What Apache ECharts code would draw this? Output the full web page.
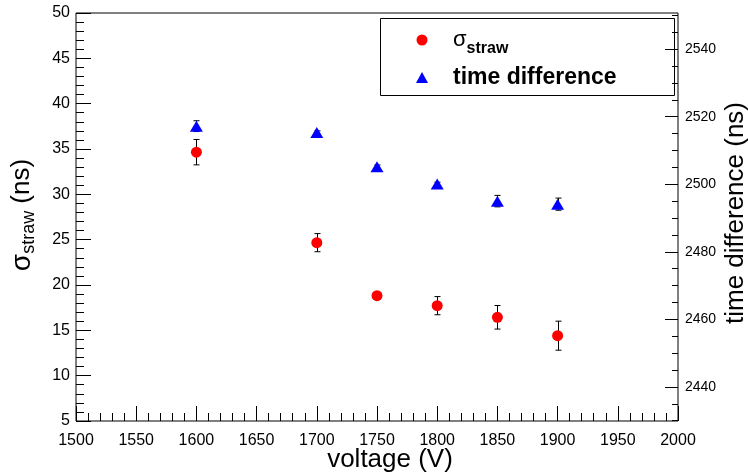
<!DOCTYPE html>
<html><head><meta charset="utf-8">
<script src="https://cdn.jsdelivr.net/npm/echarts@6/dist/echarts.min.js"></script>
<style>html,body{margin:0;padding:0;background:#fff}#c{width:748px;height:473px}</style>
</head><body><div id="c"></div>
<script>
const voltages = [1600, 1700, 1750, 1800, 1850, 1900];
const sigmaValues = [34.65, 24.67, 18.82, 17.72, 16.44, 14.41];
const sigmaErrors = [1.4, 1.0, 0.3, 1.0, 1.3, 1.6];
const timeValues = [2517.2, 2515.3, 2505.2, 2500.1, 2495.0, 2494.1];
const timeErrors = [1.6, 0.5, 0.5, 0.5, 1.7, 1.8];
const rightTicks = [2440, 2460, 2480, 2500, 2520, 2540];
const rightMinorTicks = [2430, 2435, 2440, 2445, 2450, 2455, 2460, 2465, 2470, 2475, 2480, 2485, 2490, 2495, 2500, 2505, 2510, 2515, 2520, 2525, 2530, 2535, 2540, 2545, 2550];
const legendNames = ['sigma', 'time'];

const FONT = 'Liberation Sans, Arial, sans-serif';
const RMIN = 2429.9, RMAX = 2550.7;
const plain = v => String(v);

function errSeries(xs, ys, es, yAxisIndex) {
  return {
    type: 'custom', coordinateSystem: 'cartesian2d', xAxisIndex: 0, yAxisIndex: yAxisIndex,
    z: 1, silent: true, encode: { x: 0, y: 1 },
    data: xs.map((x, i) => [x, ys[i], es[i]]),
    renderItem(params, api) {
      const x = api.value(0), y = api.value(1), e = api.value(2);
      const t = api.coord([x, y + e]), b = api.coord([x, y - e]);
      const cx = Math.round(t[0]) + 0.5, c = 3;
      const st = { stroke: '#000', lineWidth: 1 };
      return { type: 'group', children: [
        { type: 'line', shape: { x1: cx, y1: t[1], x2: cx, y2: b[1] }, style: st },
        { type: 'line', shape: { x1: cx - c, y1: t[1], x2: cx + c, y2: t[1] }, style: st },
        { type: 'line', shape: { x1: cx - c, y1: b[1], x2: cx + c, y2: b[1] }, style: st }
      ]};
    }
  };
}

const chart = echarts.init(document.getElementById('c'), null, { renderer: 'canvas' });
const black = { color: '#000', width: 1 };
chart.setOption({
  animation: false,
  backgroundColor: '#fff',
  grid: { left: 76, right: 70, top: 13, bottom: 52, show: true, borderColor: '#000', borderWidth: 1, backgroundColor: 'transparent' },
  xAxis: {
    type: 'value', min: 1500, max: 2000, interval: 50,
    axisLine: { show: false },
    axisTick: { inside: true, length: 15, lineStyle: black },
    minorTick: { show: true, splitNumber: 5, length: 8, lineStyle: black },
    axisLabel: { color: '#000', fontSize: 16, fontFamily: FONT, margin: 12, formatter: plain },
    splitLine: { show: false }
  },
  yAxis: [
    {
      type: 'value', min: 5, max: 50, interval: 5, position: 'left',
      axisLine: { show: false },
      axisTick: { inside: true, length: 15, lineStyle: black },
      minorTick: { show: true, splitNumber: 5, length: 8, lineStyle: black },
      axisLabel: { color: '#000', fontSize: 16, fontFamily: FONT, margin: 6, formatter: plain },
      splitLine: { show: false }
    },
    {
      type: 'value', min: RMIN, max: RMAX, position: 'right',
      axisLine: { show: false },
      axisTick: { inside: true, length: 13, lineStyle: black, customValues: rightTicks },
      axisLabel: { color: '#000', fontSize: 14, fontFamily: FONT, margin: 7, customValues: rightTicks, formatter: plain },
      splitLine: { show: false }
    },
    {
      type: 'value', min: RMIN, max: RMAX, position: 'right', offset: 0,
      axisLine: { show: false },
      axisTick: { inside: true, length: 6, lineStyle: black, customValues: rightMinorTicks },
      axisLabel: { show: false },
      splitLine: { show: false }
    }
  ],
  legend: {
    data: legendNames, orient: 'vertical', left: 411, top: 24,
    itemWidth: 12, itemHeight: 11, itemGap: 9,
    selectedMode: false,
    formatter: n => n === 'sigma' ? '{s|σ}{sub|straw}' : '{b|time difference}',
    textStyle: {
      color: '#000', fontFamily: FONT,
      rich: {
        s: { fontSize: 22, fontFamily: FONT, padding: [0, 0, 0, 20], lineHeight: 28, verticalAlign: 'middle' },
        sub: { fontSize: 16, fontWeight: 'bold', fontFamily: FONT, lineHeight: 28, verticalAlign: 'bottom', padding: [0, 0, -3, 0] },
        b: { fontSize: 23, fontWeight: 'bold', fontFamily: FONT, padding: [0, 0, 0, 20], lineHeight: 28 }
      }
    }
  },
  graphic: [
    { type: 'rect', shape: { x: 380.5, y: 18.5, width: 294, height: 77 }, style: { fill: 'transparent', stroke: '#000', lineWidth: 1 }, z: 0 },
    { type: 'text', x: 390, y: 460, style: { text: 'voltage (V)', font: '26px ' + FONT, fill: '#000', align: 'center', verticalAlign: 'middle' } },
    { type: 'text', x: 22, y: 215, rotation: Math.PI / 2,
      style: { text: '{s|σ}{sub|straw}{n| (ns)}', align: 'center', verticalAlign: 'middle', fill: '#000',
        rich: {
          s: { fontSize: 28, fontFamily: FONT, lineHeight: 32, verticalAlign: 'middle' },
          sub: { fontSize: 18, fontFamily: FONT, lineHeight: 18, verticalAlign: 'bottom' },
          n: { fontSize: 26, fontFamily: FONT, lineHeight: 32, verticalAlign: 'middle' }
        } } },
    { type: 'text', x: 736, y: 213, rotation: Math.PI / 2,
      style: { text: 'time difference (ns)', font: '26px ' + FONT, fill: '#000', align: 'center', verticalAlign: 'middle' } }
  ],
  series: [
    errSeries(voltages, sigmaValues, sigmaErrors, 0),
    errSeries(voltages, timeValues, timeErrors, 1),
    {
      name: 'sigma', type: 'scatter', yAxisIndex: 0, z: 3,
      symbol: 'circle', symbolSize: 11, itemStyle: { color: '#ff0000', opacity: 1 },
      data: voltages.map((v, i) => [v, sigmaValues[i]])
    },
    {
      name: 'time', type: 'scatter', yAxisIndex: 1, z: 3,
      symbol: 'triangle', symbolSize: [13, 11], itemStyle: { color: '#0000ff', opacity: 1 },
      data: voltages.map((v, i) => [v, timeValues[i]])
    }
  ]
});
</script>
</body></html>
